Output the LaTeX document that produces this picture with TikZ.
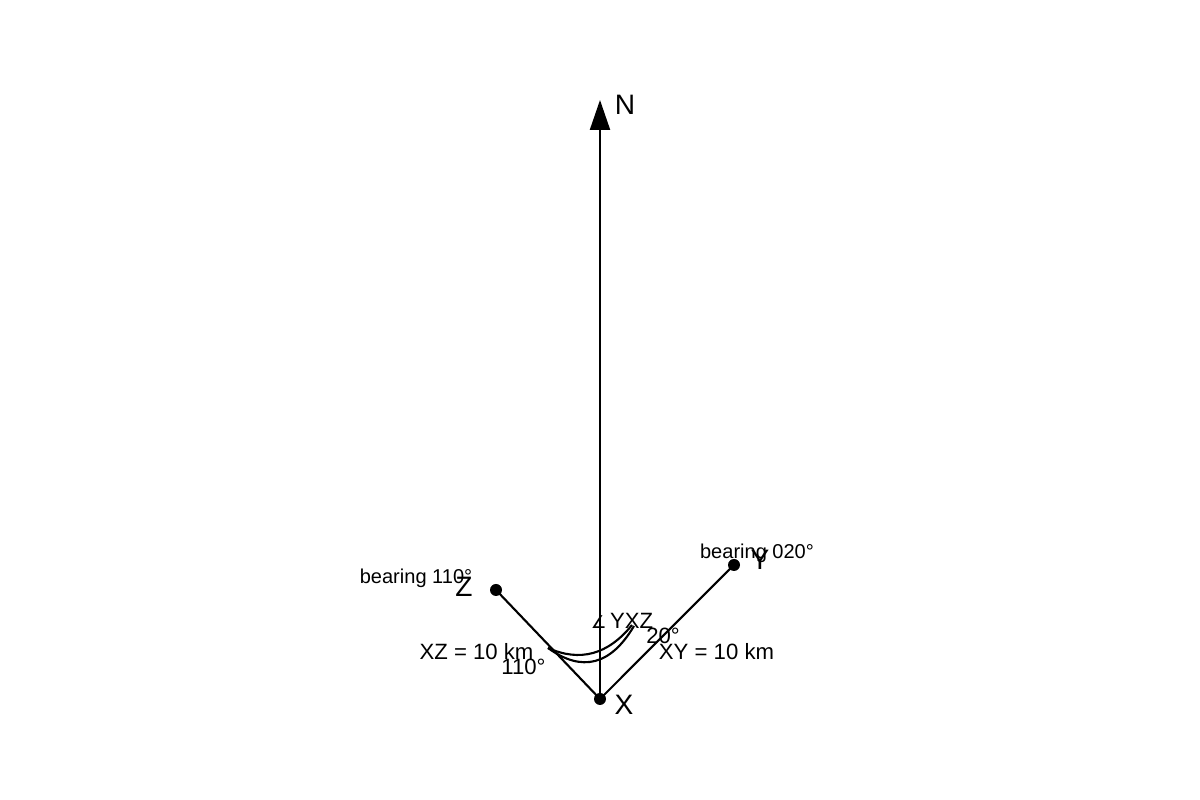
\documentclass[tikz,border=0pt]{standalone}
\usepackage{fontspec}
\setmainfont{Liberation Sans}
\newfontfamily\djv{DejaVu Sans}
\usetikzlibrary{arrows.meta}
\begin{document}
\begin{tikzpicture}[
  ln/.style={line width=0.6pt, black},
  dotpt/.style={circle, fill=black, inner sep=0pt, minimum size=0.12cm},
  big/.style={font=\fontsize{8}{9.6}\selectfont, inner sep=0pt},
  mid/.style={font=\fontsize{6.3}{7.5}\selectfont, inner sep=0pt},
  sml/.style={font=\fontsize{5.7}{6.8}\selectfont, inner sep=0pt}
]
\useasboundingbox (0,0) rectangle (12,8);
\coordinate (X) at (6.00,1.01);
\coordinate (Z) at (4.96,2.10);
\coordinate (Y) at (7.34,2.35);
\coordinate (Ntip) at (6.00,7.00);
\coordinate (A0) at (5.48,1.52);
\coordinate (A1) at (6.32,1.75);
\coordinate (A2) at (6.34,1.74);
% north arrow
\draw[ln, -{Triangle[length=0.3cm,width=0.2cm]}] (X) -- (Ntip);
% rays
\draw[ln] (X) -- (Z);
\draw[ln] (X) -- (Y);
% arcs
\draw[ln] (A0) .. controls (5.80,1.377) and (6.08,1.453) .. (A1);
\draw[ln] (A0) .. controls (5.82,1.273) and (6.107,1.347) .. (A2);
% points
\node[dotpt] (pX) at (X) {};
\node[dotpt] (pZ) at (Z) {};
\node[dotpt] (pY) at (Y) {};
% labels
\node[big] (lN) at (6.25,6.95) {N};
\node[big] (lX) at (6.24,0.95) {X};
\node[big] (lZ) at (4.64,2.13) {Z};
\node[big] (lY) at (7.60,2.40) {Y};
\node[sml] (b110) at (4.16,2.22) {bearing 110°};
\node[sml] (b020) at (7.57,2.47) {bearing 020°};
\node[mid] (xz) at (4.765,1.48) {XZ = 10 km};
\node[mid] (xy) at (7.165,1.48) {XY = 10 km};
\node[mid] (a110) at (5.235,1.33) {110°};
\node[mid] (a20) at (6.63,1.64) {20°};
\node[mid] (yxz) at (6.22,1.79) {{\djv\fontsize{5}{5}\selectfont ∠}\,YXZ};
\end{tikzpicture}
\end{document}
